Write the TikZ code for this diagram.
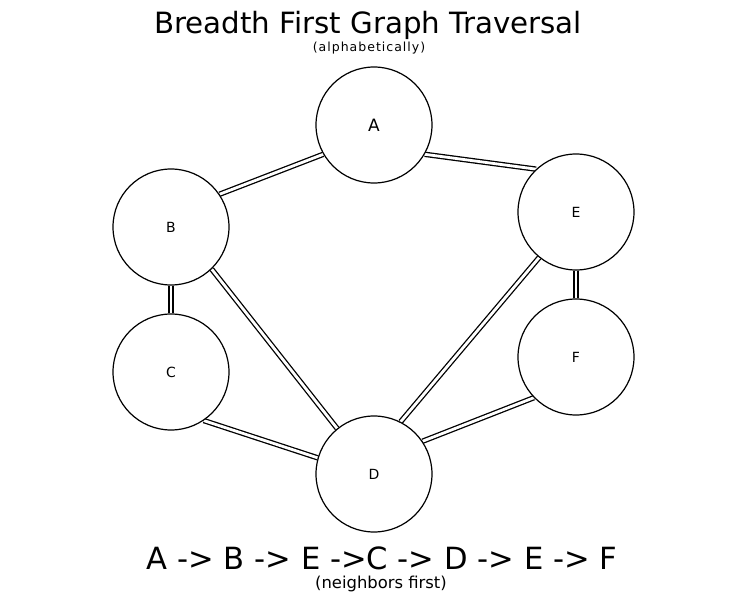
\documentclass[tikz,border=0pt]{standalone}
\usepackage{fontspec}
\setmainfont{DejaVu Sans}
\newfontfamily\spacedfont[LetterSpace=8]{DejaVu Sans}
\usetikzlibrary{backgrounds}
\tikzset{
  vtx/.style={circle, draw=black, line width=1.2pt, fill=white, minimum size=116pt, inner sep=0pt},
  edge/.style={draw=black, line width=1.3pt, double=white, double distance=2.8pt},
  ttl/.style={anchor=base, inner sep=0pt}
}
\begin{document}
\begin{tikzpicture}[x=1pt, y=-1pt]
\useasboundingbox (0,0) rectangle (748,613);
\node[ttl, font=\fontsize{29.3}{32}\selectfont] (title) at (368,33) {Breadth First Graph Traversal};
\node[ttl, font=\spacedfont\fontsize{12.5}{14}\selectfont] (sub) at (369,52) {(alphabetically)};

\node[vtx, font=\fontsize{17}{20}\selectfont] (A) at (374,125) {A};
\node[vtx, font=\fontsize{14}{16}\selectfont] (B) at (171,227) {B};
\node[vtx, font=\fontsize{14}{16}\selectfont] (C) at (171,372) {C};
\node[vtx, font=\fontsize{14}{16}\selectfont] (D) at (374,474) {D};
\node[vtx, font=\fontsize{14}{16}\selectfont] (E) at (576,212) {E};
\node[vtx, font=\fontsize{14}{16}\selectfont] (F) at (576,357) {F};

\begin{scope}[on background layer]
\draw[edge] (A.210) -- (B.34);
\draw[edge] (A.-30) -- (E.133);
\draw[edge] (B.-90) -- (C.90);
\draw[edge] (B.-46) -- (D.129);
\draw[edge] (C.-56) -- (D.164);
\draw[edge] (D.63) -- (E.231);
\draw[edge] (D.34) -- (F.224);
\draw[edge] (E.-90) -- (F.90);
\end{scope}

\node[ttl, font=\fontsize{30.6}{34}\selectfont] (path) at (382,569) {A -> B -> E ->C -> D -> E -> F};
\node[ttl, font=\fontsize{16.4}{18}\selectfont] (note) at (381,588) {(neighbors first)};
\end{tikzpicture}
\end{document}
